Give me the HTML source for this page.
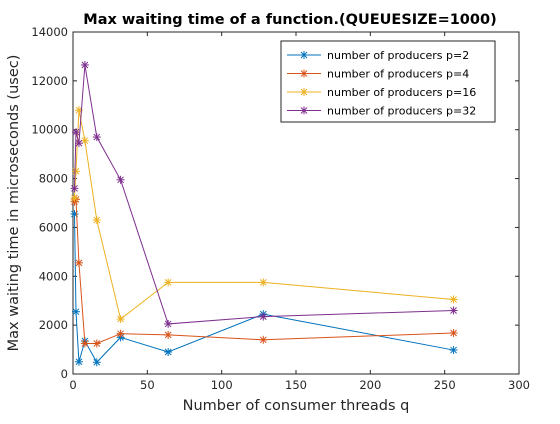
<!DOCTYPE html>
<html><head><meta charset="utf-8"><style>
body{margin:0;background:#fff;font-family:"DejaVu Sans",sans-serif;}
svg text{font-family:"DejaVu Sans",sans-serif;}
</style></head><body>
<svg id="chart" width="560" height="420" xmlns="http://www.w3.org/2000/svg">
<rect x="0" y="0" width="560" height="420" fill="#fff"/>
<g id="axes"></g>
<g id="series"></g>
<g id="legend"></g>
</svg>
<script>
const xValues=[1,2,4,8,16,32,64,128,256];
const seriesP2=[6550,2550,500,1350,480,1500,900,2450,980];
const seriesP4=[7050,7150,4550,1250,1250,1650,1600,1400,1680];
const seriesP16=[7200,8300,10800,9550,6300,2250,3750,3750,3050];
const seriesP32=[7600,9900,9450,12650,9700,7950,2050,2350,2600];
const seriesNames=["number of producers p=2","number of producers p=4","number of producers p=16","number of producers p=32"];
const xTicks=[0,50,100,150,200,250,300];
const yTicks=[0,2000,4000,6000,8000,10000,12000,14000];
const colors=["#0072BD","#D95319","#EDB120","#7E2F8E"];
const L=73,R=519,T=32,B=374;
const sx=v=>L+(v-0)/(300-0)*(R-L);
const sy=v=>B-(v-0)/(14000-0)*(B-T);
const NS="http://www.w3.org/2000/svg";
function mk(tag,attrs,parent,text){const e=document.createElementNS(NS,tag);for(const k in attrs)e.setAttribute(k,attrs[k]);if(text!==undefined)e.textContent=text;parent.appendChild(e);return e;}
const ax=document.getElementById('axes');
const box=mk('rect',{x:L,y:T,width:R-L,height:B-T,fill:'none',stroke:'#262626','stroke-width':1},ax);


xTicks.forEach(t=>{const x=sx(t);
mk('line',{x1:x,x2:x,y1:B,y2:B-4,stroke:'#262626'},ax);mk('line',{x1:x,x2:x,y1:T,y2:T+4,stroke:'#262626'},ax);
const tx=mk('text',{x:x,y:B+15,'text-anchor':'middle','font-size':11.5,fill:'#262626'},ax,String(t));

});
yTicks.forEach(t=>{const y=sy(t);
mk('line',{x1:L,x2:L+4,y1:y,y2:y,stroke:'#262626'},ax);mk('line',{x1:R,x2:R-4,y1:y,y2:y,stroke:'#262626'},ax);
const tx=mk('text',{x:L-5,y:y+4,'text-anchor':'end','font-size':11.5,fill:'#262626'},ax,String(t));

});
const xt=mk('text',{x:(L+R)/2,y:410,'text-anchor':'middle','font-size':14.5,fill:'#262626'},ax,'Number of consumer threads q');


const yt=mk('text',{x:0,y:0,transform:`translate(18,${(T+B)/2}) rotate(-90)`,'text-anchor':'middle','font-size':14.5,fill:'#262626'},ax,'Max waiting time in microseconds (usec)');


const ti=mk('text',{x:(L+R)/2+(-6),y:24,'text-anchor':'middle','font-size':14.5,'font-weight':'bold',fill:'#000'},ax,'Max waiting time of a function.(QUEUESIZE=1000)');


function star(g,x,y,c){const s=4;
mk('line',{x1:x-s,x2:x+s,y1:y,y2:y,stroke:c},g);mk('line',{x1:x,x2:x,y1:y-s,y2:y+s,stroke:c},g);
mk('line',{x1:x-3,x2:x+3,y1:y-3,y2:y+3,stroke:c},g);mk('line',{x1:x-3,x2:x+3,y1:y+3,y2:y-3,stroke:c},g);}
const sg=document.getElementById('series');
[seriesP2,seriesP4,seriesP16,seriesP32].forEach((data,i)=>{
const g=mk('g',{},sg);


const pts=data.map((v,j)=>sx(xValues[j])+','+sy(v)).join(' ');
mk('polyline',{points:pts,fill:'none',stroke:colors[i],'stroke-width':1},g);
data.forEach((v,j)=>star(g,sx(xValues[j]),sy(v),colors[i]));});
const lg=document.getElementById('legend');


mk('rect',{x:281,y:41,width:214,height:81,fill:'#fff',stroke:'#262626'},lg);
seriesNames.forEach((n,i)=>{const y=55+i*18.5;
const e=mk('g',{},lg);


mk('line',{x1:287,x2:321,y1:y,y2:y,stroke:colors[i]},e);star(e,304,y,colors[i]);
mk('text',{x:327,y:y+4,'font-size':11,fill:'#000'},e,n);});
</script>
</body></html>
